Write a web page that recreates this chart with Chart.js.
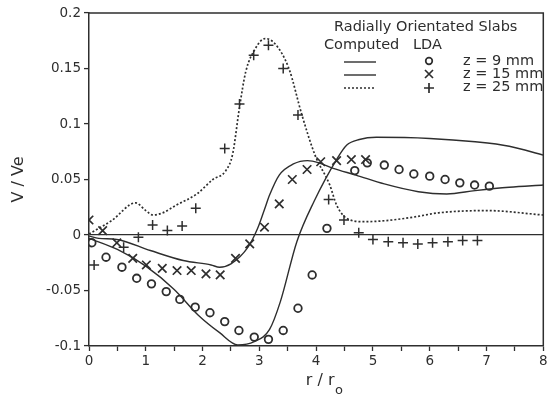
<!DOCTYPE html>
<html>
<head>
<meta charset="utf-8">
<script src="https://cdn.jsdelivr.net/npm/chart.js@4"></script>
<style>
  html, body { margin: 0; padding: 0; background: #fff; }
  #wrap { width: 551px; height: 398px; }
</style>
</head>
<body>
<div id="wrap"><canvas id="grafico" width="551" height="398"></canvas></div>
<script>
// computed curves (r / ro, V / Ve)
const comp9R = [0, 0.5, 1.0, 1.5, 1.92, 2.3, 2.62, 2.91, 3.18, 3.37, 3.66, 3.96, 4.36, 4.54, 4.76, 5.06, 6.0, 6.8, 7.4, 8.0];
const comp9V = [-0.003, -0.013, -0.028, -0.049, -0.072, -0.088, -0.099, -0.096, -0.085, -0.060, -0.006, 0.030, 0.068, 0.081, 0.086, 0.088, 0.087, 0.084, 0.080, 0.072];

const comp15R = [0, 0.17, 0.49, 1.08, 1.66, 2.15, 2.3, 2.5, 2.8, 2.97, 3.09, 3.18, 3.35, 3.6, 3.85, 4.05, 4.3, 4.7, 5.2, 5.8, 6.3, 6.8, 7.4, 8.0];
const comp15V = [-0.001, -0.003, -0.004, -0.014, -0.023, -0.027, -0.029, -0.026, -0.011, 0.006, 0.023, 0.036, 0.054, 0.064, 0.067, 0.065, 0.060, 0.054, 0.046, 0.039, 0.037, 0.040, 0.043, 0.045];

const comp25R = [0, 0.4, 0.82, 1.0, 1.13, 1.3, 1.54, 1.9, 2.18, 2.41, 2.53, 2.65, 2.76, 2.93, 3.1, 3.28, 3.52, 3.75, 3.98, 4.24, 4.36, 4.54, 4.83, 5.24, 5.7, 6.16, 7.0, 8.0];
const comp25V = [0.001, 0.013, 0.029, 0.022, 0.018, 0.020, 0.027, 0.037, 0.050, 0.058, 0.073, 0.115, 0.147, 0.168, 0.177, 0.172, 0.150, 0.108, 0.072, 0.045, 0.027, 0.015, 0.012, 0.013, 0.016, 0.020, 0.022, 0.018];

// LDA measurements
const lda9R = [0.05, 0.3, 0.58, 0.84, 1.1, 1.36, 1.6, 1.87, 2.13, 2.39, 2.64, 2.91, 3.16, 3.42, 3.68, 3.93, 4.19, 4.68, 4.9, 5.2, 5.46, 5.72, 6.0, 6.27, 6.53, 6.79, 7.05];
const lda9V = [-0.007, -0.020, -0.029, -0.039, -0.044, -0.051, -0.058, -0.065, -0.070, -0.078, -0.086, -0.092, -0.094, -0.086, -0.066, -0.036, 0.006, 0.058, 0.065, 0.063, 0.059, 0.055, 0.053, 0.050, 0.047, 0.045, 0.044];

const lda15R = [0, 0.24, 0.49, 0.77, 1.01, 1.29, 1.55, 1.8, 2.06, 2.31, 2.58, 2.83, 3.09, 3.35, 3.58, 3.84, 4.08, 4.36, 4.62, 4.87];
const lda15V = [0.0135, 0.004, -0.007, -0.021, -0.027, -0.030, -0.032, -0.032, -0.035, -0.036, -0.021, -0.008, 0.007, 0.028, 0.050, 0.059, 0.066, 0.067, 0.068, 0.068];

const lda25R = [0.09, 0.61, 0.87, 1.12, 1.38, 1.64, 1.88, 2.39, 2.65, 2.9, 3.16, 3.42, 3.68, 4.22, 4.49, 4.75, 5.0, 5.27, 5.53, 5.79, 6.05, 6.32, 6.58, 6.84];
const lda25V = [-0.027, -0.011, -0.002, 0.009, 0.004, 0.008, 0.024, 0.078, 0.118, 0.162, 0.171, 0.150, 0.108, 0.032, 0.0135, 0.002, -0.004, -0.006, -0.007, -0.008, -0.007, -0.006, -0.005, -0.005];

const legendTitle = "Radially Orientated Slabs";
const legendHead = ["Computed", "LDA"];
const seriesLabels = ["z = 9 mm", "z = 15 mm", "z = 25 mm"];
const xTitle = "r / r";
const xTitleSub = "o";
const yTitle = "V / Ve";

const cor = "#2e2e2e";
const fonte = "'DejaVu Sans', sans-serif";

function pares(rs, vs) {
    return rs.map((r, i) => ({ x: r, y: vs[i] }));
}

function linha(rs, vs, dash) {
    return {
        type: "line",
        data: pares(rs, vs),
        borderColor: cor,
        borderWidth: dash ? 1.7 : 1.4,
        borderDash: dash || [],
        pointRadius: 0,
        cubicInterpolationMode: "monotone",
        fill: false
    };
}

function pontos(rs, vs, estilo, raio, largura) {
    return {
        type: "scatter",
        data: pares(rs, vs),
        borderColor: cor,
        backgroundColor: "rgba(0,0,0,0)",
        borderWidth: largura,
        pointStyle: estilo,
        pointRadius: raio,
        showLine: false
    };
}

// frame, legend and x title drawn on top
const extras = {
    id: "extras",
    afterDraw(chart) {
        const ctx = chart.ctx;
        const a = chart.chartArea;
        ctx.save();
        ctx.strokeStyle = cor;
        ctx.lineWidth = 1.5;
        ctx.beginPath();
        ctx.moveTo(a.left, a.top);
        ctx.lineTo(a.right, a.top);
        ctx.lineTo(a.right, a.bottom);
        ctx.stroke();

        ctx.fillStyle = cor;
        ctx.textBaseline = "middle";
        ctx.textAlign = "left";
        ctx.font = "14.5px " + fonte;
        ctx.fillText(legendTitle, 334, 27);
        ctx.fillText(legendHead[0], 324, 45);
        ctx.fillText(legendHead[1], 413, 45);

        const ys = [62, 75, 88];
        ys.forEach((y, i) => {
            ctx.lineWidth = i === 2 ? 1.7 : 1.4;
            ctx.setLineDash(i === 2 ? [2, 2] : []);
            ctx.beginPath();
            ctx.moveTo(344, y);
            ctx.lineTo(376, y);
            ctx.stroke();
            ctx.setLineDash([]);
            ctx.lineWidth = 1.7;
            ctx.beginPath();
            if (i === 0) {
                ctx.arc(429, y - 1, 3.3, 0, Math.PI * 2);
            } else if (i === 1) {
                ctx.moveTo(425, y - 5); ctx.lineTo(433, y + 3);
                ctx.moveTo(433, y - 5); ctx.lineTo(425, y + 3);
            } else {
                ctx.moveTo(424, y); ctx.lineTo(434, y);
                ctx.moveTo(429, y - 5); ctx.lineTo(429, y + 5);
            }
            ctx.stroke();
            ctx.fillText(seriesLabels[i], 463, y - 1);
        });

        // x axis title with subscript
        ctx.font = "16px " + fonte;
        const w = ctx.measureText(xTitle).width;
        const cx = (a.left + a.right) / 2 + 4;
        ctx.fillText(xTitle, cx - w / 2, 381);
        ctx.font = "13px " + fonte;
        ctx.fillText(xTitleSub, cx + w / 2 + 0.5, 391);
        ctx.restore();
    }
};

new Chart(document.getElementById("grafico"), {
    type: "scatter",
    data: {
        datasets: [
            linha(comp9R, comp9V, null),
            linha(comp15R, comp15V, null),
            linha(comp25R, comp25V, [2, 2]),
            pontos(lda9R, lda9V, "circle", 3.8, 1.8),
            pontos(lda15R, lda15V, "crossRot", 6, 1.7),
            pontos(lda25R, lda25V, "cross", 5, 1.5)
        ]
    },
    options: {
        responsive: false,
        animation: false,
        layout: { padding: { top: 13, right: 3, left: 0, bottom: 0 } },
        plugins: {
            legend: { display: false },
            tooltip: { enabled: false }
        },
        scales: {
            x: {
                type: "linear",
                min: 0,
                max: 8,
                afterFit: s => { s.height = 52; },
                ticks: {
                    stepSize: 0.5,
                    autoSkip: false,
                    maxRotation: 0,
                    color: cor,
                    font: { family: fonte, size: 13.5 },
                    padding: 2,
                    callback: v => Number.isInteger(v) ? String(v) : ""
                },
                grid: { drawOnChartArea: false, tickLength: 5, tickColor: cor, tickWidth: 1.3 },
                border: { color: cor, width: 1.5 }
            },
            y: {
                min: -0.1,
                max: 0.2,
                afterFit: s => { s.width = 89; },
                ticks: {
                    stepSize: 0.05,
                    color: cor,
                    font: { family: fonte, size: 13.5 },
                    padding: 3,
                    callback: v => String(+v.toFixed(2))
                },
                grid: {
                    tickLength: 5,
                    tickColor: cor,
                    tickWidth: 1.3,
                    lineWidth: 1.2,
                    color: c => Math.abs(c.tick.value) < 1e-9 ? cor : "rgba(0,0,0,0)"
                },
                border: { color: cor, width: 1.5 },
                title: {
                    display: true,
                    text: yTitle,
                    color: cor,
                    font: { family: fonte, size: 16 },
                    padding: { top: 9, bottom: 0 }
                }
            }
        }
    },
    plugins: [extras]
});
</script>
</body>
</html>
